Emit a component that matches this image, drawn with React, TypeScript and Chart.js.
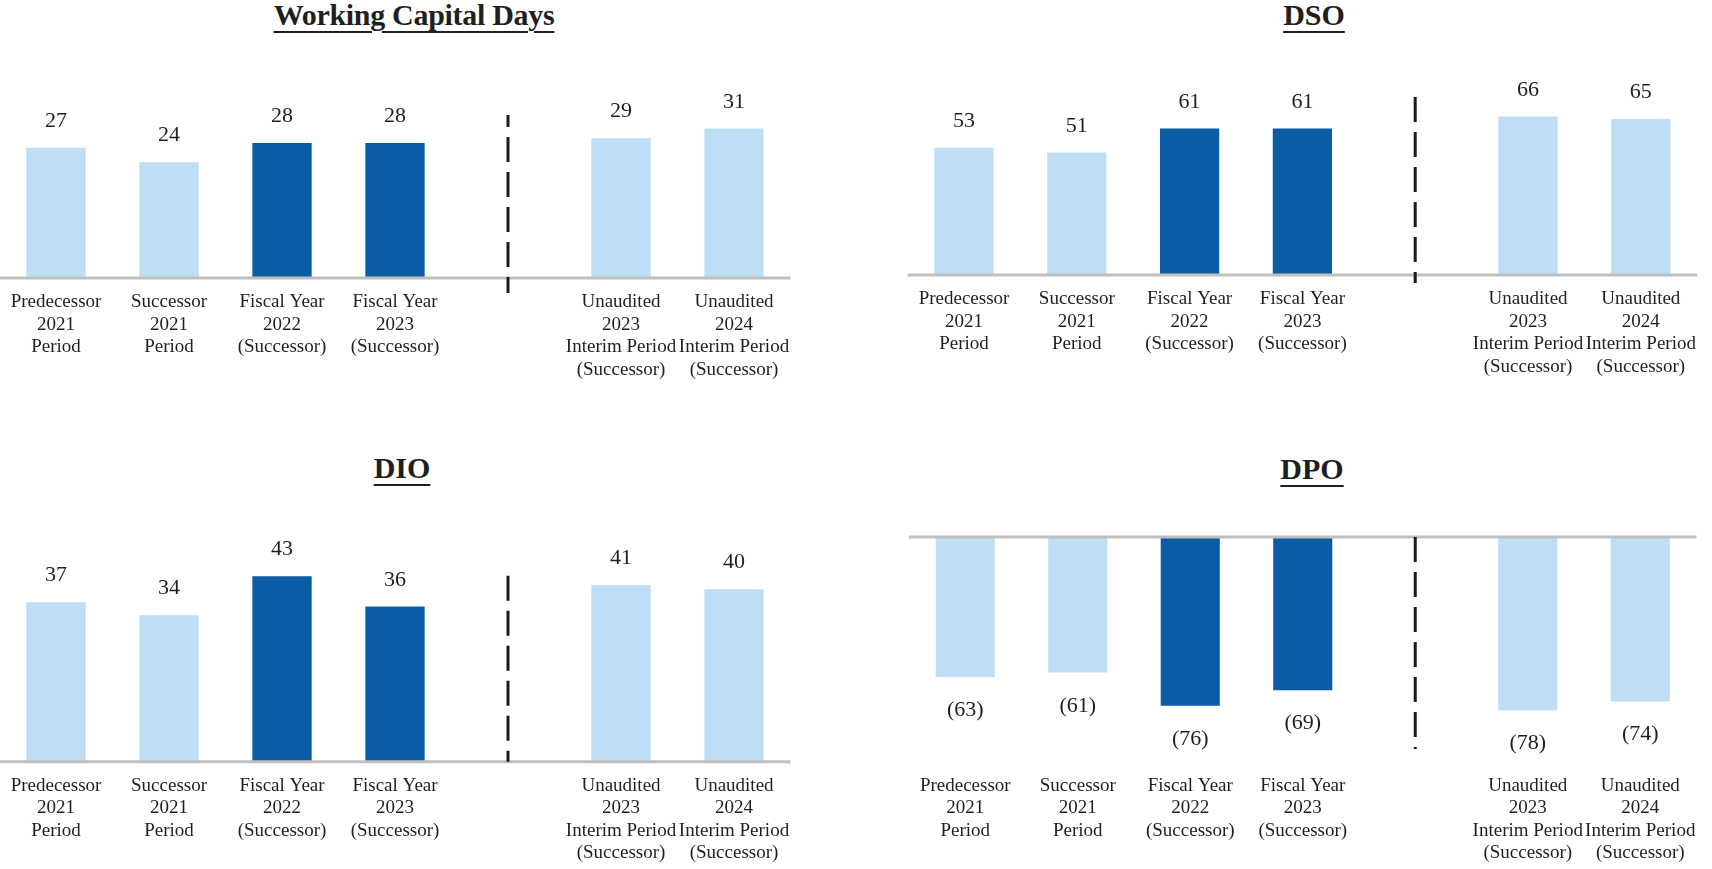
import React, { useEffect, useRef } from "react";
import { Chart, registerables } from "chart.js";

Chart.register(...registerables);

// ---------- data ----------
const categories: (string | string[])[] = [
  ["Predecessor", "2021", "Period"],
  ["Successor", "2021", "Period"],
  ["Fiscal Year", "2022", "(Successor)"],
  ["Fiscal Year", "2023", "(Successor)"],
  "",
  ["Unaudited", "2023", "Interim Period", "(Successor)"],
  ["Unaudited", "2024", "Interim Period", "(Successor)"],
];

const wcdValues = [27, 24, 28, 28, null, 29, 31];
const dsoValues = [53, 51, 61, 61, null, 66, 65];
const dioValues = [37, 34, 43, 36, null, 41, 40];
const dpoValues = [-63, -61, -76, -69, null, -78, -74];

const titles = ["Working Capital Days", "DSO", "DIO", "DPO"];

// ---------- styles ----------
const LIGHT = "#BDDEF4";
const DARK = "#0A5CA5";
const barColors = [LIGHT, LIGHT, DARK, DARK, LIGHT, LIGHT, LIGHT];
const FONT = '"Liberation Serif", "Times New Roman", serif';
const TEXT = "#1f1f1f";

const gapIndex = categories.findIndex((c) => c === "");

type PanelCfg = {
  values: (number | null)[];
  canvas: { l: number; t: number; r: number; b: number };
  areaLeft: number;
  catW: number;
  zeroY: number;
  ppu: number;
  min: number;
  max: number;
  divFrom: number;
  divTo: number;
  dashOffset: number;
};

const panels: PanelCfg[] = [
  {
    values: wcdValues,
    canvas: { l: -20, t: 40, r: 870, b: 440 },
    areaLeft: -0.5, catW: 113, zeroY: 278, ppu: 4.82, min: 0, max: 40,
    divFrom: -163, divTo: 15, dashOffset: 13,
  },
  {
    values: dsoValues,
    canvas: { l: 870, t: 40, r: 1712, b: 440 },
    areaLeft: 907.6, catW: 112.8, zeroY: 275, ppu: 2.4, min: 0, max: 80,
    divFrom: -178, divTo: 8, dashOffset: 0,
  },
  {
    values: dioValues,
    canvas: { l: -20, t: 500, r: 870, b: 869 },
    areaLeft: -0.5, catW: 113, zeroY: 761.7, ppu: 4.31, min: 0, max: 48,
    divFrom: -186, divTo: 0, dashOffset: 0,
  },
  {
    values: dpoValues,
    canvas: { l: 870, t: 500, r: 1712, b: 869 },
    areaLeft: 909, catW: 112.5, zeroY: 537, ppu: 2.222, min: -101, max: 0,
    divFrom: 0, divTo: 212, dashOffset: 0,
  },
];

const titlePos = [
  { cx: 414, baseline: 25 },
  { cx: 1314, baseline: 25 },
  { cx: 402, baseline: 478.5 },
  { cx: 1312, baseline: 479 },
];

// ---------- plugins ----------
const valueLabels = {
  id: "valueLabels",
  afterDatasetsDraw(chart: any, _args: any, opts: any) {
    const { ctx } = chart;
    const meta = chart.getDatasetMeta(0);
    const data = chart.data.datasets[0].data;
    ctx.save();
    ctx.font = `${opts.size}px ${FONT}`;
    ctx.fillStyle = opts.color;
    ctx.textAlign = "center";
    ctx.textBaseline = "alphabetic";
    meta.data.forEach((el: any, i: number) => {
      const v = data[i];
      if (v === null || v === undefined) return;
      const txt = v < 0 ? `(${-v})` : `${v}`;
      const y = v < 0 ? el.y + opts.below : el.y - opts.above;
      ctx.fillText(txt, el.x, y);
    });
    ctx.restore();
  },
};

const guides = {
  id: "guides",
  afterDatasetsDraw(chart: any, _args: any, opts: any) {
    const { ctx, chartArea, scales } = chart;
    const y0 = scales.y.getPixelForValue(0);
    ctx.save();
    ctx.strokeStyle = "#BFBFBF";
    ctx.lineWidth = 3;
    ctx.beginPath();
    ctx.moveTo(chartArea.left, y0);
    ctx.lineTo(chartArea.right, y0);
    ctx.stroke();

    const x = scales.x.getPixelForValue(opts.dividerIndex);
    ctx.setLineDash([25, 10]);
    ctx.lineDashOffset = opts.dashOffset;
    ctx.strokeStyle = "#1a1a1a";
    ctx.lineWidth = 3;
    ctx.beginPath();
    ctx.moveTo(x, y0 + opts.dividerFrom);
    ctx.lineTo(x, y0 + opts.dividerTo);
    ctx.stroke();
    ctx.restore();
  },
};

function BarPanel({ cfg }: { cfg: PanelCfg }) {
  const ref = useRef<HTMLCanvasElement>(null);
  const w = cfg.canvas.r - cfg.canvas.l;
  const h = cfg.canvas.b - cfg.canvas.t;

  useEffect(() => {
    if (!ref.current) return;
    const areaTop = cfg.zeroY - cfg.max * cfg.ppu;
    const areaBottom = cfg.zeroY - cfg.min * cfg.ppu;
    const areaRight = cfg.areaLeft + cfg.catW * categories.length;
    const padLeft = cfg.areaLeft - cfg.canvas.l;
    const padRight = cfg.canvas.r - areaRight;
    const padTop = areaTop - cfg.canvas.t;
    const axisH = cfg.canvas.b - areaBottom;

    const chart = new Chart(ref.current, {
      type: "bar",
      data: {
        labels: categories as any,
        datasets: [
          {
            data: cfg.values as any,
            backgroundColor: barColors,
            borderWidth: 0,
            barPercentage: 0.525,
            categoryPercentage: 1,
          },
        ],
      },
      plugins: [valueLabels, guides] as any,
      options: {
        animation: false,
        responsive: false,
        maintainAspectRatio: false,
        layout: { padding: { left: padLeft, right: padRight, top: padTop, bottom: 0 } },
        plugins: {
          legend: { display: false },
          tooltip: { enabled: false },
          title: { display: false },
          valueLabels: { size: 22, color: TEXT, above: 21, below: 39 },
          guides: {
            dividerIndex: gapIndex,
            dividerFrom: cfg.divFrom,
            dividerTo: cfg.divTo,
            dashOffset: cfg.dashOffset,
          },
        } as any,
        scales: {
          x: {
            type: "category",
            offset: true,
            grid: { display: false, drawTicks: false },
            border: { display: false },
            ticks: {
              autoSkip: false,
              maxRotation: 0,
              minRotation: 0,
              padding: 13,
              color: TEXT,
              font: { family: FONT, size: 19, lineHeight: 1.184 },
            },
            afterFit: (scale: any) => {
              scale.height = axisH;
            },
          },
          y: { display: false, min: cfg.min, max: cfg.max },
        },
      } as any,
    });
    return () => chart.destroy();
  }, []);

  return (
    <canvas
      ref={ref}
      width={w}
      height={h}
      style={{
        position: "absolute",
        left: cfg.canvas.l,
        top: cfg.canvas.t,
        width: w,
        height: h,
      }}
    />
  );
}

export default function App() {
  return (
    <div
      style={{
        position: "absolute",
        left: 0,
        top: 0,
        width: 1712,
        height: 869,
        overflow: "hidden",
        background: "#ffffff",
      }}
    >
      {panels.map((p, i) => (
        <BarPanel key={i} cfg={p} />
      ))}
      {titles.map((t, i) => (
        <div
          key={t}
          style={{
            position: "absolute",
            left: titlePos[i].cx - 300,
            top: titlePos[i].baseline - 25.1,
            width: 600,
            textAlign: "center",
            fontFamily: FONT,
            fontWeight: "bold",
            fontSize: 30,
            lineHeight: "30px",
            letterSpacing: i === 0 ? "-0.3px" : "0px",
            color: TEXT,
            textDecoration: "underline",
            textDecorationThickness: "2px",
            textUnderlineOffset: "6px",
            whiteSpace: "nowrap",
          }}
        >
          {t}
        </div>
      ))}
    </div>
  );
}
